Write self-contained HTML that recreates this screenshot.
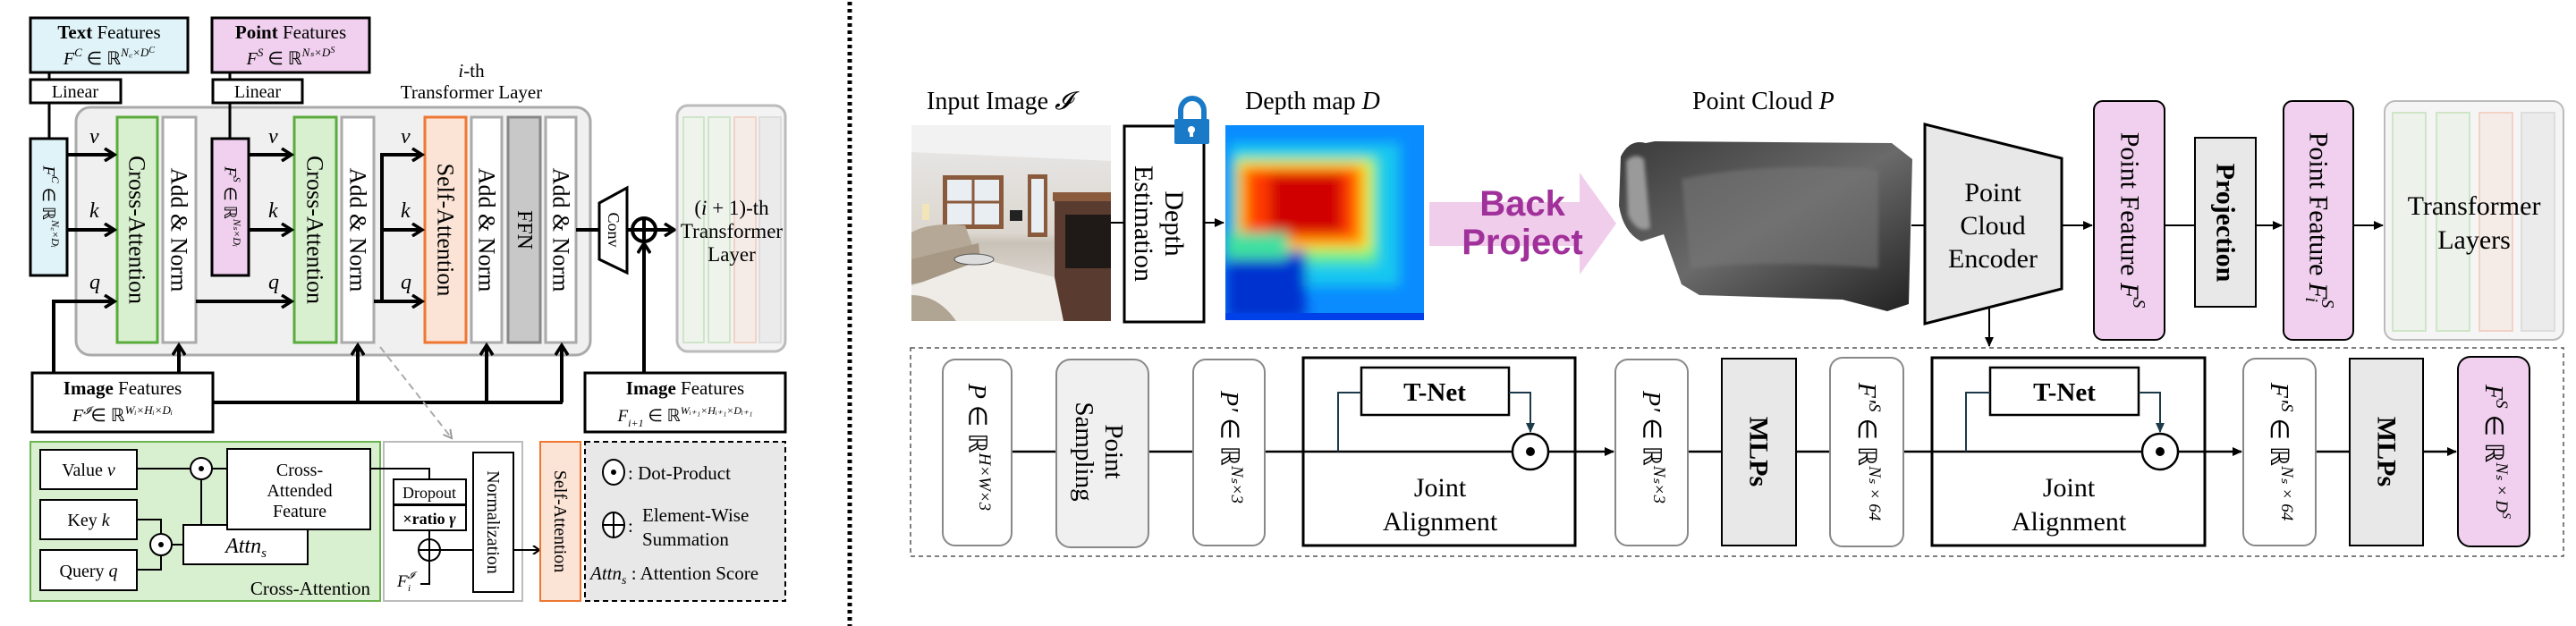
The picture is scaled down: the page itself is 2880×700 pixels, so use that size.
<!DOCTYPE html>
<html><head><meta charset="utf-8"><style>
html,body{margin:0;padding:0;background:#fff}
svg{display:block}
text{font-family:"Liberation Serif",serif;fill:#000}
.it{font-style:italic}
.b{font-weight:bold}
</style></head><body>
<svg width="2880" height="700" viewBox="0 0 2880 700" xmlns="http://www.w3.org/2000/svg" font-family="Liberation Serif, serif">
<defs>
<marker id="chev" markerWidth="10" markerHeight="10" refX="7" refY="5" orient="auto" markerUnits="userSpaceOnUse" viewBox="0 0 10 10"><polyline points="1,0 8,5 1,10" fill="none" stroke="#000" stroke-width="2.2"/></marker>
<marker id="chevB" markerWidth="16" markerHeight="16" refX="13" refY="8" orient="auto" markerUnits="userSpaceOnUse" viewBox="0 0 16 16"><polyline points="2,1 13,8 2,15" fill="none" stroke="#000" stroke-width="3.5"/></marker>
<marker id="tri" markerWidth="12" markerHeight="12" refX="10" refY="6" orient="auto" markerUnits="userSpaceOnUse" viewBox="0 0 12 12"><path d="M0,1 L11,6 L0,11 z" fill="#000"/></marker>
<marker id="triS" markerWidth="12" markerHeight="12" refX="10" refY="6" orient="auto" markerUnits="userSpaceOnUse" viewBox="0 0 12 12"><path d="M0,1 L11,6 L0,11 z" fill="#1c3a4a"/></marker>
<marker id="triG" markerWidth="12" markerHeight="12" refX="10" refY="6" orient="auto" markerUnits="userSpaceOnUse" viewBox="0 0 12 12"><polyline points="1,1 10,6 1,11" fill="none" stroke="#999" stroke-width="2"/></marker>
<filter id="bl" x="-20%" y="-20%" width="140%" height="140%"><feGaussianBlur stdDeviation="7"/></filter>
<filter id="bl2"><feGaussianBlur stdDeviation="2"/></filter>
<linearGradient id="wall" x1="0" y1="0" x2="0" y2="1"><stop offset="0" stop-color="#e9e9ea"/><stop offset="0.55" stop-color="#dcd7cf"/><stop offset="0.6" stop-color="#c9c2b8"/><stop offset="1" stop-color="#ece9e6"/></linearGradient>
<linearGradient id="pc" x1="0" y1="0" x2="1" y2="1"><stop offset="0" stop-color="#3a3a3a"/><stop offset="0.5" stop-color="#6a6a6a"/><stop offset="1" stop-color="#222"/></linearGradient>
</defs>

<!-- ================= LEFT PANEL ================= -->
<rect x="34" y="20" width="176" height="61" fill="#dff3f8" stroke="#000" stroke-width="3"/>
<text x="122" y="43" font-size="21" text-anchor="middle"><tspan class="b">Text</tspan> Features</text>
<text x="122" y="72" font-size="20" text-anchor="middle" class="it">F<tspan font-size="13" dy="-9">C</tspan><tspan dy="9" font-style="normal"> ∈ ℝ</tspan><tspan font-size="13" dy="-9">N꜀×D</tspan><tspan font-size="10" dy="-4">C</tspan></text>
<rect x="237" y="20" width="176" height="61" fill="#f0d0ee" stroke="#000" stroke-width="3"/>
<text x="325" y="43" font-size="21" text-anchor="middle"><tspan class="b">Point</tspan> Features</text>
<text x="325" y="72" font-size="20" text-anchor="middle" class="it">F<tspan font-size="13" dy="-9">S</tspan><tspan dy="9" font-style="normal"> ∈ ℝ</tspan><tspan font-size="13" dy="-9">Nₛ×D</tspan><tspan font-size="10" dy="-4">S</tspan></text>
<line x1="55" y1="81" x2="55" y2="89" stroke="#000" stroke-width="3"/>
<line x1="257" y1="81" x2="257" y2="89" stroke="#000" stroke-width="3"/>
<rect x="34" y="89" width="101" height="26" fill="#fff" stroke="#000" stroke-width="3"/>
<text x="84" y="109" font-size="20" text-anchor="middle">Linear</text>
<rect x="238" y="89" width="100" height="26" fill="#fff" stroke="#000" stroke-width="3"/>
<text x="288" y="109" font-size="20" text-anchor="middle">Linear</text>
<text x="527" y="86" font-size="21" text-anchor="middle"><tspan class="it">i</tspan>-th</text>
<text x="527" y="110" font-size="21" text-anchor="middle">Transformer Layer</text>

<rect x="85" y="120" width="575" height="277" rx="16" fill="#f0f0f0" stroke="#aaa" stroke-width="3"/>
<line x1="55" y1="115" x2="55" y2="155" stroke="#000" stroke-width="3"/>
<line x1="257" y1="115" x2="257" y2="155" stroke="#000" stroke-width="3"/>
<rect x="34" y="155" width="41" height="153" fill="#dff3f8" stroke="#000" stroke-width="3"/>
<text transform="translate(54,231) rotate(90)" font-size="19" text-anchor="middle" dominant-baseline="central" class="it">F<tspan font-size="12" dy="-8">C</tspan><tspan dy="8" font-style="normal"> ∈ ℝ</tspan><tspan font-size="12" dy="-8">N꜀×Dᵢ</tspan></text>
<rect x="237" y="155" width="41" height="153" fill="#f0d0ee" stroke="#000" stroke-width="3"/>
<text transform="translate(257,231) rotate(90)" font-size="19" text-anchor="middle" dominant-baseline="central" class="it">F<tspan font-size="12" dy="-8">S</tspan><tspan dy="8" font-style="normal"> ∈ ℝ</tspan><tspan font-size="12" dy="-8">Nₛ×Dᵢ</tspan></text>

<rect x="131" y="131" width="45" height="252" fill="#d9f0d0" stroke="#5aab3c" stroke-width="3"/>
<text transform="translate(153,257) rotate(90)" font-size="26" text-anchor="middle" dominant-baseline="central">Cross-Attention</text>
<rect x="182" y="131" width="37" height="252" fill="#fff" stroke="#aaa" stroke-width="3"/>
<text transform="translate(200,257) rotate(90)" font-size="26" text-anchor="middle" dominant-baseline="central">Add &amp; Norm</text>
<rect x="329" y="131" width="47" height="252" fill="#d9f0d0" stroke="#5aab3c" stroke-width="3"/>
<text transform="translate(352,257) rotate(90)" font-size="26" text-anchor="middle" dominant-baseline="central">Cross-Attention</text>
<rect x="382" y="131" width="36" height="252" fill="#fff" stroke="#aaa" stroke-width="3"/>
<text transform="translate(400,257) rotate(90)" font-size="26" text-anchor="middle" dominant-baseline="central">Add &amp; Norm</text>
<rect x="475" y="131" width="46" height="252" fill="#fbe3d6" stroke="#ee7733" stroke-width="3"/>
<text transform="translate(498,257) rotate(90)" font-size="26" text-anchor="middle" dominant-baseline="central">Self-Attention</text>
<rect x="527" y="131" width="34" height="252" fill="#fff" stroke="#aaa" stroke-width="3"/>
<text transform="translate(544,257) rotate(90)" font-size="26" text-anchor="middle" dominant-baseline="central">Add &amp; Norm</text>
<rect x="568" y="131" width="36" height="252" fill="#c8c8c8" stroke="#888" stroke-width="3"/>
<text transform="translate(586,257) rotate(90)" font-size="24" text-anchor="middle" dominant-baseline="central">FFN</text>
<rect x="610" y="131" width="34" height="252" fill="#fff" stroke="#aaa" stroke-width="3"/>
<text transform="translate(627,257) rotate(90)" font-size="26" text-anchor="middle" dominant-baseline="central">Add &amp; Norm</text>

<g stroke="#000" stroke-width="4" fill="none">
<line x1="75" y1="173" x2="128" y2="173" marker-end="url(#chevB)"/>
<line x1="75" y1="257" x2="128" y2="257" marker-end="url(#chevB)"/>
<polyline points="60,430 60,337 128,337" marker-end="url(#chevB)"/>
<line x1="278" y1="173" x2="326" y2="173" marker-end="url(#chevB)"/>
<line x1="278" y1="257" x2="326" y2="257" marker-end="url(#chevB)"/>
<line x1="219" y1="337" x2="326" y2="337" marker-end="url(#chevB)"/>
<line x1="418" y1="337" x2="472" y2="337" marker-end="url(#chevB)"/>
<polyline points="472,173 427,173 427,337"/>
<line x1="427" y1="173" x2="472" y2="173" marker-end="url(#chevB)"/>
<line x1="427" y1="257" x2="472" y2="257" marker-end="url(#chevB)"/>
<line x1="200" y1="417" x2="200" y2="386" marker-end="url(#chevB)"/>
<line x1="400" y1="450" x2="400" y2="386" marker-end="url(#chevB)"/>
<line x1="544" y1="450" x2="544" y2="386" marker-end="url(#chevB)"/>
<line x1="628" y1="450" x2="628" y2="386" marker-end="url(#chevB)"/>
<polyline points="238,450 629,450"/>
<line x1="720" y1="417" x2="720" y2="272" marker-end="url(#chevB)"/>
<line x1="644" y1="257" x2="670" y2="257"/>
<line x1="701" y1="257" x2="707" y2="257"/>
<line x1="733" y1="257" x2="754" y2="257" marker-end="url(#chevB)"/>
</g>
<g font-size="24" class="it">
<text x="100" y="160">v</text><text x="100" y="243">k</text><text x="100" y="323">q</text>
<text x="300" y="160">v</text><text x="300" y="243">k</text><text x="300" y="323">q</text>
<text x="448" y="160">v</text><text x="448" y="243">k</text><text x="448" y="323">q</text>
</g>
<polygon points="670,227 701,210 701,305 670,290" fill="#fff" stroke="#000" stroke-width="3"/>
<text transform="translate(686,257) rotate(90)" font-size="18" text-anchor="middle" dominant-baseline="central">Conv</text>
<circle cx="720" cy="257" r="13" fill="#fff" stroke="#000" stroke-width="4"/>
<line x1="707" y1="257" x2="733" y2="257" stroke="#000" stroke-width="4"/>
<line x1="720" y1="244" x2="720" y2="270" stroke="#000" stroke-width="4"/>
<rect x="757" y="118" width="121" height="275" rx="12" fill="#f3f3f3" stroke="#bbb" stroke-width="3"/>
<g stroke-width="2" fill="none">
<rect x="764" y="131" width="23" height="252" stroke="#cfe5c8" fill="#eef3ec"/>
<rect x="792" y="131" width="24" height="252" stroke="#cfe5c8" fill="#eef3ec"/>
<rect x="821" y="131" width="24" height="252" stroke="#f1d3c6" fill="#f5ece8"/>
<rect x="849" y="131" width="24" height="252" stroke="#ddd" fill="#ebebeb"/>
</g>
<text x="818" y="240" font-size="23" text-anchor="middle">(<tspan class="it">i</tspan> + 1)-th</text>
<text x="818" y="266" font-size="23" text-anchor="middle">Transformer</text>
<text x="818" y="292" font-size="23" text-anchor="middle">Layer</text>

<rect x="36" y="417" width="202" height="66" fill="#fff" stroke="#000" stroke-width="3"/>
<text x="137" y="441" font-size="21" text-anchor="middle"><tspan class="b">Image</tspan> Features</text>
<text x="137" y="471" font-size="20" text-anchor="middle" class="it">F<tspan font-size="12" dy="-8">𝓘</tspan><tspan dy="8" font-style="normal">∈ ℝ</tspan><tspan font-size="13" dy="-8">Wᵢ×Hᵢ×Dᵢ</tspan></text>
<rect x="654" y="417" width="224" height="66" fill="#fff" stroke="#000" stroke-width="3"/>
<text x="766" y="441" font-size="21" text-anchor="middle"><tspan class="b">Image</tspan> Features</text>
<text x="766" y="471" font-size="19" text-anchor="middle" class="it">F<tspan font-size="12" dy="6">i+1</tspan><tspan dy="-6" font-style="normal"> ∈ ℝ</tspan><tspan font-size="12" dy="-8">Wᵢ₊₁×Hᵢ₊₁×Dᵢ₊₁</tspan></text>

<line x1="425" y1="388" x2="505" y2="490" stroke="#aaa" stroke-width="2" stroke-dasharray="8,5" marker-end="url(#triG)"/>

<rect x="34" y="494" width="391" height="178" fill="#d9f0d0" stroke="#6bb34f" stroke-width="2"/>
<g stroke="#000" stroke-width="2" fill="#fff">
<rect x="45" y="503" width="108" height="44"/>
<rect x="45" y="559" width="108" height="44"/>
<rect x="45" y="615" width="108" height="45"/>
</g>
<text x="99" y="532" font-size="20" text-anchor="middle">Value <tspan class="it">v</tspan></text>
<text x="99" y="588" font-size="20" text-anchor="middle">Key <tspan class="it">k</tspan></text>
<text x="99" y="645" font-size="20" text-anchor="middle">Query <tspan class="it">q</tspan></text>
<g stroke="#000" stroke-width="2" fill="none">
<line x1="153" y1="524" x2="213" y2="524"/>
<line x1="237" y1="524" x2="254" y2="524"/>
<line x1="225" y1="536" x2="225" y2="587"/>
<polyline points="153,581 180,581 180,597"/>
<polyline points="153,637 180,637 180,621"/>
<line x1="192" y1="609" x2="205" y2="609"/>
</g>
<rect x="205" y="587" width="139" height="44" fill="#fff" stroke="#000" stroke-width="2"/>
<text x="275" y="618" font-size="24" text-anchor="middle" class="it">Attn<tspan font-size="15" dy="5">s</tspan></text>
<rect x="254" y="502" width="160" height="90" fill="#fff" stroke="#000" stroke-width="2"/>
<text x="335" y="532" font-size="20" text-anchor="middle">Cross-</text>
<text x="335" y="555" font-size="20" text-anchor="middle">Attended</text>
<text x="335" y="578" font-size="20" text-anchor="middle">Feature</text>
<circle cx="225" cy="524" r="12" fill="#fff" stroke="#000" stroke-width="2"/><circle cx="225" cy="524" r="3" fill="#000"/>
<circle cx="180" cy="609" r="12" fill="#fff" stroke="#000" stroke-width="2"/><circle cx="180" cy="609" r="3" fill="#000"/>
<text x="414" y="665" font-size="21" text-anchor="end">Cross-Attention</text>

<rect x="429" y="494" width="155" height="178" fill="#fff" stroke="#bbb" stroke-width="2"/>
<polyline points="414,524 480,524 480,536" fill="none" stroke="#000" stroke-width="2"/>
<rect x="440" y="536" width="81" height="28" fill="#fff" stroke="#000" stroke-width="2"/>
<text x="480" y="557" font-size="18" text-anchor="middle">Dropout</text>
<rect x="440" y="565" width="81" height="28" fill="#fff" stroke="#000" stroke-width="2"/>
<text x="480" y="586" font-size="18" text-anchor="middle" class="b">×ratio <tspan class="it">γ</tspan></text>
<g stroke="#000" stroke-width="2" fill="none">
<line x1="480" y1="593" x2="480" y2="603"/>
<polyline points="470,653 480,653 480,627"/>
<line x1="492" y1="615" x2="529" y2="615"/>
<line x1="574" y1="615" x2="602" y2="615" marker-end="url(#chev)"/>
</g>
<circle cx="480" cy="615" r="12" fill="#fff" stroke="#000" stroke-width="2"/>
<line x1="468" y1="615" x2="492" y2="615" stroke="#000" stroke-width="2"/><line x1="480" y1="603" x2="480" y2="627" stroke="#000" stroke-width="2"/>
<text x="444" y="656" font-size="19" class="it">F<tspan font-size="11" dy="-9">𝓘</tspan><tspan font-size="11" dx="-7" dy="14">i</tspan></text>
<rect x="529" y="506" width="45" height="156" fill="#fff" stroke="#000" stroke-width="2"/>
<text transform="translate(551,584) rotate(90)" font-size="20" text-anchor="middle" dominant-baseline="central">Normalization</text>
<rect x="604" y="494" width="45" height="178" fill="#fbe3d6" stroke="#ee7733" stroke-width="2"/>
<text transform="translate(626,583) rotate(90)" font-size="20" text-anchor="middle" dominant-baseline="central">Self-Attention</text>

<rect x="654" y="494" width="224" height="178" fill="#e8e8e8" stroke="#000" stroke-width="2" stroke-dasharray="6,4"/>
<ellipse cx="686" cy="528" rx="12" ry="14" fill="#fff" stroke="#000" stroke-width="2"/><circle cx="686" cy="528" r="3" fill="#000"/>
<text x="702" y="536" font-size="21">: Dot-Product</text>
<ellipse cx="686" cy="587" rx="12" ry="14" fill="#fff" stroke="#000" stroke-width="2"/>
<line x1="674" y1="587" x2="698" y2="587" stroke="#000" stroke-width="2"/><line x1="686" y1="573" x2="686" y2="601" stroke="#000" stroke-width="2"/>
<text x="702" y="595" font-size="21">:</text>
<text x="718" y="583" font-size="21">Element-Wise</text>
<text x="718" y="610" font-size="21">Summation</text>
<text x="660" y="648" font-size="21"><tspan class="it">Attn<tspan font-size="14" dy="5">s</tspan></tspan><tspan dy="-5"> : Attention Score</tspan></text>

<line x1="950" y1="2" x2="950" y2="700" stroke="#000" stroke-width="5" stroke-dasharray="4,4"/>

<!-- ================= RIGHT PANEL ================= -->
<text x="1036" y="122" font-size="28">Input Image <tspan class="it">𝓘</tspan></text>
<svg x="1019" y="140" width="223" height="219" viewBox="0 0 223 219">
<rect width="223" height="219" fill="url(#wall)"/>
<polygon points="0,0 223,0 223,40 0,30" fill="#f2f2f2"/>
<rect x="35" y="56" width="68" height="60" fill="#8a5a3c"/><rect x="40" y="61" width="58" height="50" fill="#e9eef2"/>
<line x1="69" y1="61" x2="69" y2="111" stroke="#8a5a3c" stroke-width="3"/><line x1="40" y1="86" x2="98" y2="86" stroke="#8a5a3c" stroke-width="3"/>
<rect x="130" y="55" width="22" height="70" fill="#8a5a3c"/><rect x="134" y="60" width="14" height="60" fill="#e9eef2"/>
<rect x="160" y="75" width="63" height="144" fill="#5a3b30"/><rect x="158" y="75" width="65" height="10" fill="#8a5a3c"/>
<rect x="172" y="100" width="51" height="60" fill="#1f1a18"/>
<rect x="110" y="95" width="14" height="12" fill="#222"/>
<path d="M0,120 Q20,108 60,112 L70,140 Q40,150 0,160 Z" fill="#b5a896"/>
<path d="M0,150 Q40,140 75,132 L78,160 Q40,170 0,178 Z" fill="#a69884"/>
<rect x="12" y="88" width="8" height="18" fill="#f2e6b8"/>
<polygon points="0,219 0,180 80,150 160,170 170,219" fill="#efece8"/>
<ellipse cx="70" cy="150" rx="22" ry="6" fill="#ddd" stroke="#555"/>
<path d="M0,190 Q30,190 50,219 L0,219Z" fill="#b0a592"/>
</svg>
<rect x="1257" y="141" width="89" height="219" fill="#fff" stroke="#000" stroke-width="3"/>
<text transform="translate(1301,250) rotate(90)" font-size="30" text-anchor="middle"><tspan x="0" dy="-2">Depth</tspan><tspan x="0" dy="34">Estimation</tspan></text>
<path d="M1320,135 L1320,124 A13,14 0 0 1 1346,124 L1346,135" fill="none" stroke="#1a7ac8" stroke-width="6"/>
<rect x="1313" y="133" width="39" height="28" rx="2" fill="#1a7ac8"/>
<circle cx="1332" cy="145" r="4" fill="#fff"/><rect x="1330" y="146" width="4" height="7" fill="#fff"/>
<line x1="1242" y1="249" x2="1257" y2="249" stroke="#000" stroke-width="2"/>
<line x1="1346" y1="249" x2="1368" y2="249" stroke="#000" stroke-width="2" marker-end="url(#tri)"/>
<text x="1392" y="122" font-size="28">Depth map <tspan class="it">D</tspan></text>
<svg x="1370" y="140" width="222" height="218" viewBox="0 0 222 218">
<rect width="222" height="218" fill="#0055ff"/>
<rect x="-10" y="-10" width="242" height="238" fill="#0a8cff"/>
<g filter="url(#bl)">
<rect x="5" y="20" width="190" height="160" fill="#18c8f0"/>
<rect x="10" y="35" width="160" height="120" fill="#5ff08a"/>
<rect x="12" y="40" width="150" height="100" fill="#f5f020"/>
<rect x="15" y="45" width="140" height="90" fill="#ff9a00"/>
<rect x="25" y="50" width="120" height="75" fill="#ff3a00"/>
<rect x="50" y="55" width="80" height="65" fill="#d00000"/>
<rect x="0" y="140" width="90" height="78" fill="#0030d0"/>
<rect x="0" y="120" width="70" height="30" fill="#40e0a0"/>
</g>
<rect x="0" y="210" width="222" height="8" fill="#0040e8"/>
</svg>
<polygon points="1598,226 1766,226 1766,193 1807,250 1766,307 1766,275 1598,275" fill="#f0cdeb"/>
<text x="1702" y="241" font-size="40" font-weight="bold" text-anchor="middle" style="font-family:'Liberation Sans',sans-serif;fill:#a0309a">Back</text>
<text x="1702" y="284" font-size="40" font-weight="bold" text-anchor="middle" style="font-family:'Liberation Sans',sans-serif;fill:#a0309a">Project</text>
<text x="1892" y="122" font-size="28">Point Cloud <tspan class="it">P</tspan></text>
<path d="M1812,175 Q1822,155 1840,160 L1850,158 L2115,160 L2138,178 L2134,340 L2110,348 L2060,335 L1900,330 L1880,318 L1860,262 L1835,270 Q1815,260 1810,230 Z" fill="url(#pc)"/>
<path d="M1818,180 Q1828,170 1838,178 L1845,255 Q1830,262 1820,240 Z" fill="#9a9a9a" filter="url(#bl2)"/>
<path d="M1880,200 Q1980,180 2100,190 L2100,300 Q1980,290 1890,300 Z" fill="#777" opacity="0.6" filter="url(#bl2)"/>
<line x1="2137" y1="252" x2="2152" y2="252" stroke="#000" stroke-width="2"/>
<polygon points="2152,139 2305,177 2305,323 2152,362" fill="#e8e8e8" stroke="#000" stroke-width="3"/>
<text x="2228" y="225" font-size="30" text-anchor="middle">Point</text>
<text x="2228" y="262" font-size="30" text-anchor="middle">Cloud</text>
<text x="2228" y="299" font-size="30" text-anchor="middle">Encoder</text>
<line x1="2305" y1="252" x2="2339" y2="252" stroke="#000" stroke-width="2" marker-end="url(#tri)"/>
<rect x="2341" y="113" width="79" height="267" rx="10" fill="#f0d0ee" stroke="#000" stroke-width="2"/>
<text transform="translate(2381,246) rotate(90)" font-size="30" text-anchor="middle" dominant-baseline="central">Point Feature <tspan class="it">F<tspan font-size="20" dy="-10">S</tspan></tspan></text>
<line x1="2420" y1="252" x2="2454" y2="252" stroke="#000" stroke-width="2"/>
<rect x="2454" y="154" width="68" height="189" fill="#e8e8e8" stroke="#000" stroke-width="2"/>
<text transform="translate(2488,249) rotate(90)" font-size="30" font-weight="bold" text-anchor="middle" dominant-baseline="central">Projection</text>
<line x1="2522" y1="252" x2="2551" y2="252" stroke="#000" stroke-width="2" marker-end="url(#tri)"/>
<rect x="2553" y="113" width="78" height="267" rx="10" fill="#f0d0ee" stroke="#000" stroke-width="2"/>
<text transform="translate(2592,246) rotate(90)" font-size="30" text-anchor="middle" dominant-baseline="central">Point Feature <tspan class="it">F<tspan font-size="20" dy="-10">S</tspan><tspan font-size="20" dx="-12" dy="18">i</tspan></tspan></text>
<line x1="2631" y1="252" x2="2664" y2="252" stroke="#000" stroke-width="2" marker-end="url(#tri)"/>
<rect x="2666" y="113" width="200" height="267" rx="12" fill="#f5f5f5" stroke="#bbb" stroke-width="2"/>
<g stroke-width="2">
<rect x="2675" y="126" width="37" height="244" stroke="#cfe5c8" fill="#edf2eb"/>
<rect x="2724" y="126" width="37" height="244" stroke="#cfe5c8" fill="#edf2eb"/>
<rect x="2772" y="126" width="37" height="244" stroke="#f1d3c6" fill="#f5ece8"/>
<rect x="2819" y="126" width="37" height="244" stroke="#ddd" fill="#ebebeb"/>
</g>
<text x="2766" y="240" font-size="30" text-anchor="middle">Transformer</text>
<text x="2766" y="278" font-size="30" text-anchor="middle">Layers</text>
<line x1="2224" y1="345" x2="2224" y2="387" stroke="#000" stroke-width="2" marker-end="url(#tri)"/>

<rect x="1018" y="389" width="1848" height="233" fill="none" stroke="#555" stroke-width="1.5" stroke-dasharray="5,4"/>
<g stroke="#000" stroke-width="2.5" fill="none">
<line x1="1131" y1="505" x2="1181" y2="505"/>
<line x1="1284" y1="505" x2="1334" y2="505"/>
<line x1="1414" y1="505" x2="1691" y2="505"/>
<line x1="1731" y1="505" x2="1804" y2="505" marker-end="url(#tri)"/>
<line x1="1887" y1="505" x2="1925" y2="505"/>
<line x1="2008" y1="505" x2="2046" y2="505"/>
<line x1="2128" y1="505" x2="2395" y2="505"/>
<line x1="2435" y1="505" x2="2506" y2="505" marker-end="url(#tri)"/>
<line x1="2589" y1="505" x2="2627" y2="505"/>
<line x1="2709" y1="505" x2="2746" y2="505" marker-end="url(#tri)"/>
</g>
<g stroke="#888" stroke-width="2">
<rect x="1054" y="402" width="77" height="208" rx="14" fill="#fff"/>
<rect x="1181" y="402" width="103" height="210" rx="16" fill="#f0f0f0"/>
<rect x="1334" y="402" width="80" height="208" rx="14" fill="#fff"/>
<rect x="1806" y="402" width="81" height="208" rx="14" fill="#fff"/>
<rect x="2046" y="400" width="82" height="211" rx="14" fill="#fff"/>
<rect x="2508" y="401" width="81" height="209" rx="14" fill="#fff"/>
</g>
<rect x="2748" y="399" width="80" height="212" rx="14" fill="#f0d0ee" stroke="#000" stroke-width="2"/>
<rect x="1925" y="401" width="83" height="209" fill="#e8e8e8" stroke="#000" stroke-width="2"/>
<rect x="2627" y="401" width="82" height="209" fill="#e8e8e8" stroke="#000" stroke-width="2"/>
<text transform="translate(1092,500) rotate(90)" font-size="28" text-anchor="middle" dominant-baseline="central"><tspan class="it">P</tspan> ∈ ℝ<tspan font-size="19" dy="-9" class="it">H×W×3</tspan></text>
<text transform="translate(1232,505) rotate(90)" font-size="29" text-anchor="middle"><tspan x="0" dy="-4">Point</tspan><tspan x="0" dy="33">Sampling</tspan></text>
<text transform="translate(1374,500) rotate(90)" font-size="28" text-anchor="middle" dominant-baseline="central"><tspan class="it">P′</tspan> ∈ ℝ<tspan font-size="19" dy="-9" class="it">Nₛ×3</tspan></text>
<text transform="translate(1846,500) rotate(90)" font-size="28" text-anchor="middle" dominant-baseline="central"><tspan class="it">P′</tspan> ∈ ℝ<tspan font-size="19" dy="-9" class="it">Nₛ×3</tspan></text>
<text transform="translate(1966,505) rotate(90)" font-size="30" font-weight="bold" text-anchor="middle" dominant-baseline="central">MLPs</text>
<text transform="translate(2087,505) rotate(90)" font-size="28" text-anchor="middle" dominant-baseline="central"><tspan class="it">F′<tspan font-size="19" dy="-9">S</tspan></tspan><tspan dy="9"> ∈ ℝ</tspan><tspan font-size="19" dy="-9" class="it">Nₛ × 64</tspan></text>
<text transform="translate(2548,505) rotate(90)" font-size="28" text-anchor="middle" dominant-baseline="central"><tspan class="it">F′<tspan font-size="19" dy="-9">S</tspan></tspan><tspan dy="9"> ∈ ℝ</tspan><tspan font-size="19" dy="-9" class="it">Nₛ × 64</tspan></text>
<text transform="translate(2668,505) rotate(90)" font-size="30" font-weight="bold" text-anchor="middle" dominant-baseline="central">MLPs</text>
<text transform="translate(2788,505) rotate(90)" font-size="28" text-anchor="middle" dominant-baseline="central"><tspan class="it">F<tspan font-size="19" dy="-9">S</tspan></tspan><tspan dy="9"> ∈ ℝ</tspan><tspan font-size="19" dy="-9" class="it">Nₛ × D<tspan font-size="14" dy="-5">S</tspan></tspan></text>

<rect x="1457" y="400" width="304" height="210" fill="none" stroke="#000" stroke-width="3"/>
<rect x="1522" y="411" width="165" height="53" fill="#fff" stroke="#000" stroke-width="2.5"/>
<text x="1604" y="448" font-size="29" font-weight="bold" text-anchor="middle">T-Net</text>
<polyline points="1496,505 1496,439 1522,439" fill="none" stroke="#1c3a4a" stroke-width="2"/>
<polyline points="1687,439 1711,439 1711,483" fill="none" stroke="#1c3a4a" stroke-width="2" marker-end="url(#triS)"/>
<ellipse cx="1711" cy="505" rx="20" ry="20" fill="#fff" stroke="#000" stroke-width="2.5"/><circle cx="1711" cy="505" r="5" fill="#000"/>
<text x="1610" y="555" font-size="30" text-anchor="middle">Joint</text>
<text x="1610" y="593" font-size="30" text-anchor="middle">Alignment</text>
<rect x="2160" y="400" width="305" height="210" fill="none" stroke="#000" stroke-width="3"/>
<rect x="2225" y="411" width="166" height="53" fill="#fff" stroke="#000" stroke-width="2.5"/>
<text x="2308" y="448" font-size="29" font-weight="bold" text-anchor="middle">T-Net</text>
<polyline points="2198,505 2198,439 2225,439" fill="none" stroke="#1c3a4a" stroke-width="2"/>
<polyline points="2391,439 2415,439 2415,483" fill="none" stroke="#1c3a4a" stroke-width="2" marker-end="url(#triS)"/>
<ellipse cx="2415" cy="505" rx="20" ry="20" fill="#fff" stroke="#000" stroke-width="2.5"/><circle cx="2415" cy="505" r="5" fill="#000"/>
<text x="2313" y="555" font-size="30" text-anchor="middle">Joint</text>
<text x="2313" y="593" font-size="30" text-anchor="middle">Alignment</text>
</svg>
</body></html>
